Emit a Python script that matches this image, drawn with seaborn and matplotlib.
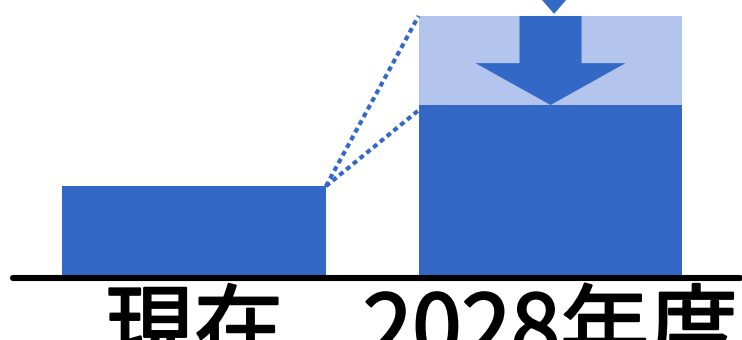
import numpy as np
import pandas as pd
import matplotlib
matplotlib.use("Agg")
import matplotlib.pyplot as plt
import matplotlib.patheffects as pe
from matplotlib.patches import Polygon
import seaborn as sns

# Values (index, projected 2028 level = 100)
categories = ["現在", "2028年度"]
target_values = [35, 66]          # current level and reduced 2028 target
projected_label = ["2028年度"]
projected_values = [100]          # 2028 level before reduction

DARK = "#3468C6"
LIGHT = "#B3C5EC"
BAR_W = 0.74

sns.set_theme(style="white")
plt.rcParams["font.family"] = ["Noto Sans CJK JP", "DejaVu Sans"]

fig = plt.figure(figsize=(7.42, 3.40), dpi=100)
ax = fig.add_axes([0, 0, 1, 1])

# projected (light) bar underneath, target bars on top
sns.barplot(x=projected_label, y=projected_values, order=categories,
            color=LIGHT, width=BAR_W, saturation=1, ax=ax, linewidth=0)
sns.barplot(x=categories, y=target_values, order=categories,
            color=DARK, width=BAR_W, saturation=1, ax=ax, linewidth=0)

ax.set_xlim(-0.544, 1.537)
ax.set_ylim(-23.7, 106.1)
ax.set_axis_off()

# baseline
ax.axhline(0, xmin=13 / 742, xmax=740 / 742, color="black", lw=4.4, zorder=5)

# dotted guides from the current bar to the 2028 bar
cur = target_values[0]
x0 = 0 + BAR_W / 2
x1 = 1 - BAR_W / 2
for yv in (projected_values[0], target_values[1] - 2):
    ax.plot([x0, x1], [cur, yv], color=DARK, lw=3.0,
            linestyle=(0, (1.2, 0.9)), solid_capstyle="butt",
            dash_capstyle="butt", zorder=3)

# reduction arrow inside the 2028 bar
top = projected_values[0]
goal = target_values[1]
ax.arrow(1, top, 0, goal - top, width=0.174, head_width=0.421,
         head_length=16.0, length_includes_head=True,
         color=DARK, lw=0, zorder=4)

# small arrow head entering from above
tip_x, tip_y = 1.01, top + 0.8
hw, hh = 0.059, 9.2
ax.add_patch(Polygon([[tip_x - hw, tip_y + hh], [tip_x + hw, tip_y + hh],
                      [tip_x, tip_y]], closed=True, color=DARK, lw=0,
                     zorder=4, clip_on=True))

# category labels, slightly thickened strokes
for i, lab in enumerate(categories):
    ax.text(i, -30.8, lab, ha="center", va="baseline", fontsize=64,
            color="black", clip_on=False,
            path_effects=[pe.withStroke(linewidth=1.6, foreground="black")])

fig.savefig("out.png", dpi=100, facecolor="white")
